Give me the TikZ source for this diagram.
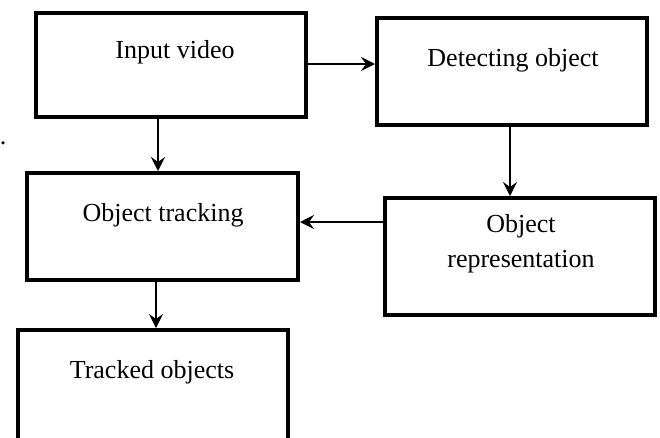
\documentclass[tikz,border=0pt]{standalone}
\usepackage{fontspec}
\setmainfont{Liberation Serif}
\usetikzlibrary{arrows.meta,calc}
\begin{document}
\begin{tikzpicture}[x=1pt,y=-1pt,
  box/.style={draw=black,line width=4pt,rectangle,inner sep=0pt},
  lbl/.style={inner sep=0pt,font=\fontsize{26}{31}\selectfont,align=center},
  conn/.style={line width=2pt,-{Stealth[length=14pt,width=14pt,inset=5pt]}}]
\useasboundingbox (0,0) rectangle (660,437);
\node[box,minimum width=270pt,minimum height=104pt] (in) at (171,65) {};
\node[box,minimum width=270pt,minimum height=107pt] (det) at (512,71.5) {};
\node[box,minimum width=271pt,minimum height=107pt] (trk) at (162.5,226.5) {};
\node[box,minimum width=270pt,minimum height=117pt] (rep) at (520,256.5) {};
\node[box,minimum width=270pt,minimum height=120pt] (tob) at (153,390) {};
\node[lbl] (tin) at (175,52) {Input video};
\node[lbl] (tdet) at (513,60) {Detecting object};
\node[lbl] (ttrk) at (163,215) {Object tracking};
\node[lbl] (trep1) at (521,226) {Object};
\node[lbl] (trep2) at (521,262) {representation};
\node[lbl] (ttob) at (152,372) {Tracked objects};
\node[lbl,anchor=base] (dot) at (3,144) {.};
\draw[conn] (in.east |- 0,64) -- (det.west |- 0,64);
\draw[conn] (in.south -| 158,0) -- (trk.north -| 158,0);
\draw[conn] (det.south -| 510,0) -- (rep.north -| 510,0);
\draw[conn] (rep.west |- 0,222) -- (trk.east |- 0,222);
\draw[conn] (trk.south -| 156,0) -- (tob.north -| 156,0);
\end{tikzpicture}
\end{document}
